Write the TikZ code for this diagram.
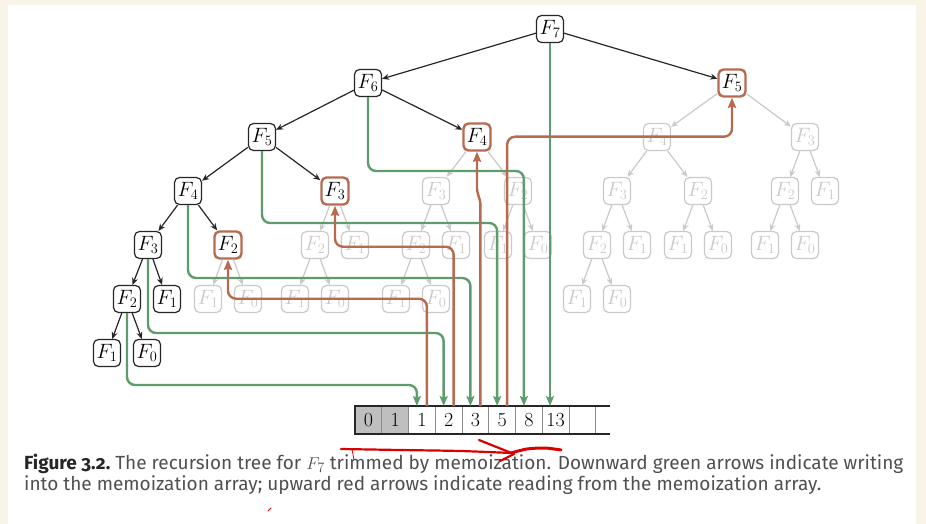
\documentclass[tikz,border=0pt]{standalone}
\usepackage{fontspec}
\usepackage{xcolor}
\usepackage{tikz}
\usetikzlibrary{positioning, arrows.meta}
\newfontfamily\capfont[Numbers=OldStyle]{Fira Sans}
\definecolor{memogreen}{HTML}{5E9C6E}
\definecolor{memored}{HTML}{B86A50}
\definecolor{prunedgray}{HTML}{CACACA}
\definecolor{paper}{HTML}{F8F5E8}
\definecolor{captext}{HTML}{505050}
\tikzstyle{fib} = [rectangle, rounded corners=5pt, minimum size=27pt, inner sep=0pt, draw=black!85, line width=1.2pt, fill=white, font=\fontsize{20.74}{22}\selectfont]
\tikzstyle{memo} = [fib, draw=memored, line width=2.4pt]
\tikzstyle{pruned} = [fib, draw=prunedgray, text=prunedgray]
\tikzstyle{call} = [-{Stealth[length=7pt, width=6pt]}, line width=1.2pt, black!85]
\tikzstyle{skipcall} = [-{Stealth[length=7pt, width=6pt]}, line width=1.2pt, prunedgray]
\tikzstyle{cell} = [rectangle, minimum width=26.75pt, minimum height=28pt, inner sep=0pt, outer sep=0pt, draw=black!45, line width=0.6pt, font=\fontsize{20}{20}\selectfont]
\tikzstyle{store} = [-{Stealth[length=10pt, width=8pt, inset=2pt]}, line width=2.4pt, memogreen, rounded corners=8pt]
\tikzstyle{fetch} = [-{Stealth[length=10pt, width=8pt, inset=1pt]}, line width=2.4pt, memored, rounded corners=8pt]
\tikzstyle{scribble} = [line width=2.2pt, red!85!black, line cap=round, line join=round]

\begin{document}
\begin{tikzpicture}[x=1pt, y=1pt, on grid]
		\fill[paper] (0,0) rectangle (926,-524);
		\fill[white] (8,-5) rectangle (916,-524);
		\useasboundingbox (0,0) rectangle (926,-524);
		% calls that are actually made
		\node (f7)[fib] at (550,-29) {$F_7$};
		\node (f6)[fib, below left = 54pt and 182pt of f7] {$F_6$};
		\node (f5r)[memo, below right = 54pt and 182pt of f7] {$F_5$};
		\node (f5)[fib, below left = 54pt and 106pt of f6] {$F_5$};
		\node (f4r)[memo, below right = 54pt and 109pt of f6] {$F_4$};
		\node (f4)[fib, below left = 54pt and 74pt of f5] {$F_4$};
		\node (f3r)[memo, below right = 54pt and 73pt of f5] {$F_3$};
		\node (f3)[fib, below left = 54pt and 40pt of f4] {$F_3$};
		\node (f2r)[memo, below right = 54pt and 40pt of f4] {$F_2$};
		\node (f2)[fib, below left = 54pt and 21pt of f3] {$F_2$};
		\node (f1a)[fib, below right = 54pt and 19pt of f3] {$F_1$};
		\node (f1b)[fib, below left = 54pt and 20pt of f2] {$F_1$};
		\node (f0a)[fib, below right = 54pt and 20pt of f2] {$F_0$};
		% calls trimmed away
		\node (g2a)[pruned, below left = 54pt and 20pt of f3r] {$F_2$};
		\node (g1a)[pruned, below right = 54pt and 20pt of f3r] {$F_1$};
		\node (g1b)[pruned, below left = 54pt and 20pt of g2a] {$F_1$};
		\node (g0a)[pruned, below right = 54pt and 20pt of g2a] {$F_0$};
		\node (g1c)[pruned, below left = 54pt and 20pt of f2r] {$F_1$};
		\node (g0b)[pruned, below right = 54pt and 20pt of f2r] {$F_0$};
		\node (g3a)[pruned, below left = 54pt and 41pt of f4r] {$F_3$};
		\node (g2b)[pruned, below right = 54pt and 41pt of f4r] {$F_2$};
		\node (g2c)[pruned, below left = 54pt and 20pt of g3a] {$F_2$};
		\node (g1d)[pruned, below right = 54pt and 20pt of g3a] {$F_1$};
		\node (g1e)[pruned, below left = 54pt and 20pt of g2c] {$F_1$};
		\node (g0c)[pruned, below right = 54pt and 20pt of g2c] {$F_0$};
		\node (g1f)[pruned, below left = 54pt and 20pt of g2b] {$F_1$};
		\node (g0d)[pruned, below right = 54pt and 20pt of g2b] {$F_0$};
		\node (g4)[pruned, below left = 54pt and 75pt of f5r] {$F_4$};
		\node (g3b)[pruned, below right = 54pt and 73pt of f5r] {$F_3$};
		\node (g3c)[pruned, below left = 54pt and 40pt of g4] {$F_3$};
		\node (g2d)[pruned, below right = 54pt and 41pt of g4] {$F_2$};
		\node (g2e)[pruned, below left = 54pt and 20pt of g3b] {$F_2$};
		\node (g1g)[pruned, below right = 54pt and 20pt of g3b] {$F_1$};
		\node (g2f)[pruned, below left = 54pt and 20pt of g3c] {$F_2$};
		\node (g1h)[pruned, below right = 54pt and 20pt of g3c] {$F_1$};
		\node (g1i)[pruned, below left = 54pt and 20pt of g2d] {$F_1$};
		\node (g0e)[pruned, below right = 54pt and 20pt of g2d] {$F_0$};
		\node (g1j)[pruned, below left = 54pt and 20pt of g2e] {$F_1$};
		\node (g0f)[pruned, below right = 54pt and 20pt of g2e] {$F_0$};
		\node (g1k)[pruned, below left = 54pt and 20pt of g2f] {$F_1$};
		\node (g0g)[pruned, below right = 54pt and 20pt of g2f] {$F_0$};
		\draw [call] (f7) -- (f6);
		\draw [call] (f7) -- (f5r);
		\draw [call] (f6) -- (f5);
		\draw [call] (f6) -- (f4r);
		\draw [call] (f5) -- (f4);
		\draw [call] (f5) -- (f3r);
		\draw [call] (f4) -- (f3);
		\draw [call] (f4) -- (f2r);
		\draw [call] (f3) -- (f2);
		\draw [call] (f3) -- (f1a);
		\draw [call] (f2) -- (f1b);
		\draw [call] (f2) -- (f0a);
		\draw [skipcall] (f3r) -- (g2a);
		\draw [skipcall] (f3r) -- (g1a);
		\draw [skipcall] (g2a) -- (g1b);
		\draw [skipcall] (g2a) -- (g0a);
		\draw [skipcall] (f2r) -- (g1c);
		\draw [skipcall] (f2r) -- (g0b);
		\draw [skipcall] (f4r) -- (g3a);
		\draw [skipcall] (f4r) -- (g2b);
		\draw [skipcall] (g3a) -- (g2c);
		\draw [skipcall] (g3a) -- (g1d);
		\draw [skipcall] (g2c) -- (g1e);
		\draw [skipcall] (g2c) -- (g0c);
		\draw [skipcall] (g2b) -- (g1f);
		\draw [skipcall] (g2b) -- (g0d);
		\draw [skipcall] (f5r) -- (g4);
		\draw [skipcall] (f5r) -- (g3b);
		\draw [skipcall] (g4) -- (g3c);
		\draw [skipcall] (g4) -- (g2d);
		\draw [skipcall] (g3b) -- (g2e);
		\draw [skipcall] (g3b) -- (g1g);
		\draw [skipcall] (g3c) -- (g2f);
		\draw [skipcall] (g3c) -- (g1h);
		\draw [skipcall] (g2d) -- (g1i);
		\draw [skipcall] (g2d) -- (g0e);
		\draw [skipcall] (g2e) -- (g1j);
		\draw [skipcall] (g2e) -- (g0f);
		\draw [skipcall] (g2f) -- (g1k);
		\draw [skipcall] (g2f) -- (g0g);
		% memo array
		\node (c0)[cell, fill=black!25] at (368.4,-420) {0};
		\node (c1)[cell, fill=black!25, right = 26.75pt of c0] {1};
		\node (c2)[cell, right = 26.75pt of c1] {1};
		\node (c3)[cell, right = 26.75pt of c2] {2};
		\node (c4)[cell, right = 26.75pt of c3] {3};
		\node (c5)[cell, right = 26.75pt of c4] {5};
		\node (c6)[cell, right = 26.75pt of c5] {8};
		\node (c7)[cell, right = 26.75pt of c6] {13};
		\node (c8)[cell, right = 26.75pt of c7] {};
		\node (c9)[cell, draw=none, minimum width=14pt, right = 20.4pt of c8] {};
		\draw [line width=1.8pt, black!85] (c9.north east) -- (c0.north west) -- (c0.south west) -- (c9.south east);
		% writing into the array
		\draw [store] (f2.south) |- ([xshift=-5pt, yshift=21pt]c2.north) -- ([xshift=-5pt]c2.north);
		\draw [store] (f3.south) |- ([xshift=-5pt, yshift=73pt]c3.north) -- ([xshift=-5pt]c3.north);
		\draw [store] (f4.south) |- ([xshift=-5pt, yshift=128pt]c4.north) -- ([xshift=-5pt]c4.north);
		\draw [store] (f5.south) |- ([xshift=-5pt, yshift=183pt]c5.north) -- ([xshift=-5pt]c5.north);
		\draw [store] (f6.south) |- ([xshift=-5pt, yshift=235pt]c6.north) -- ([xshift=-5pt]c6.north);
		\draw [store] (f7.south) -- (f7.south |- c7.north);
		% reading from the array
		\draw [fetch] ([xshift=5pt]c2.north) |- ([yshift=-39pt]f2r.south) -- (f2r.south);
		\draw [fetch] ([xshift=5pt]c3.north) |- ([yshift=-41pt]f3r.south) -- (f3r.south);
		\draw [fetch, rounded corners=2pt] ([xshift=5pt]c4.north) -- ++(0,204) -- ([yshift=-39pt]f4r.south) -- (f4r.south);
		\draw [fetch] ([xshift=5pt]c5.north) |- ([yshift=-39pt]f5r.south) -- (f5r.south);
		% caption
		\node (cap1)[anchor=base west, inner sep=0pt, text=captext, font=\capfont\fontsize{19}{22}\selectfont] at (24,-469) {\textcolor{black!85}{\bfseries Figure 3.2.}\ The recursion tree for $F_7$ trimmed by memoization. Downward green arrows indicate writing};
		\node (cap2)[anchor=base west, inner sep=0pt, text=captext, font=\capfont\fontsize{19}{22}\selectfont] at (24,-490) {into the memoization array; upward red arrows indicate reading from the memoization array.};
		% pen marks
		\draw [scribble] plot[smooth] coordinates {(341,-449) (400,-450) (460,-451) (511,-453)};
		\draw [scribble] (479,-440) -- (514,-454) -- (500,-461);
		\draw [scribble, line width=3pt] plot[smooth] coordinates {(511,-453) (527,-449) (545,-448) (561,-450)};
		\draw [scribble, line width=0.8pt] (352,-449) -- (354,-460);
		\draw [scribble, line width=0.8pt] (268,-511) -- (271,-508);
	\end{tikzpicture}
\end{document}
